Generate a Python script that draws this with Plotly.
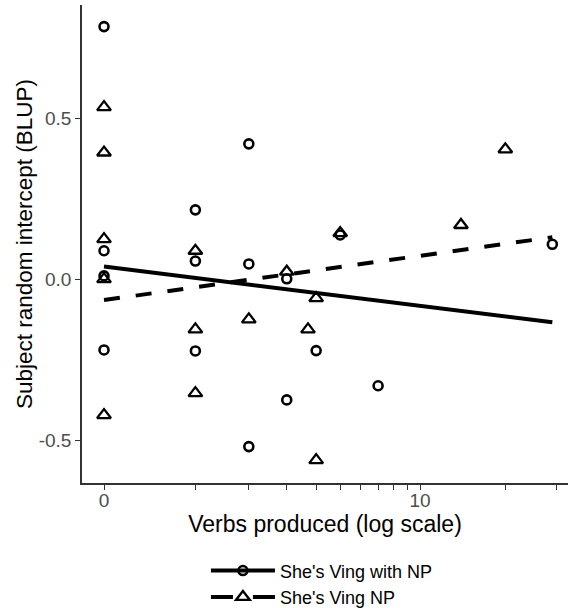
import numpy as np
import plotly.graph_objects as go

# verbs produced (raw counts, shown on a log1p axis) and subject BLUPs
with_np_x = [0, 0, 0, 0, 1, 1, 1, 2, 2, 2, 3, 3, 4, 5, 7, 29]
with_np_y = [0.785, 0.089, 0.011, -0.219, 0.216, 0.057, -0.222, 0.421, 0.048, -0.519,
             0.002, -0.374, -0.221, 0.138, -0.330, 0.109]

np_x = [0, 0, 0, 0, 0, 1, 1, 1, 2, 3, 3.7, 4, 4, 5, 14, 20]
np_y = [0.535, 0.394, 0.125, 0.001, -0.421, 0.089, -0.155, -0.353, -0.124, 0.024,
        -0.155, -0.058, -0.561, 0.144, 0.169, 0.404]

# fitted lines (endpoints)
fit_x = [0, 29]
fit_with_np = [0.040, -0.133]
fit_np = [-0.064, 0.131]

tick_raw = [0, 1, 2, 3, 4, 5, 6, 7, 8, 9, 10, 20, 30]
tick_lab = ["0", "", "", "", "", "", "", "", "", "", "10", "", ""]

names = ["She's Ving with NP", "She's Ving NP"]

FONT = "Liberation Sans, Arial, sans-serif"
t = np.log1p

fig = go.Figure()

fig.add_trace(go.Scatter(x=t(with_np_x), y=with_np_y, mode="markers", showlegend=False,
                         marker=dict(symbol="circle-open", size=9, color="black",
                                     line=dict(width=2.6, color="black"))))
fig.add_trace(go.Scatter(x=t(np_x), y=np_y, mode="markers", showlegend=False,
                         marker=dict(symbol="triangle-up-open", size=12, color="black",
                                     line=dict(width=2.3, color="black"))))
fig.add_trace(go.Scatter(x=t(fit_x), y=fit_with_np, mode="lines", showlegend=False,
                         line=dict(color="black", width=4)))
fig.add_trace(go.Scatter(x=t(fit_x), y=fit_np, mode="lines", showlegend=False,
                         line=dict(color="black", width=4, dash="16px,16px")))

# legend entries
fig.add_trace(go.Scatter(x=[None], y=[None], mode="lines+markers", name=names[0],
                         line=dict(color="black", width=4),
                         marker=dict(symbol="circle-open", size=9, color="black",
                                     line=dict(width=2.6, color="black"))))
fig.add_trace(go.Scatter(x=[None], y=[None], mode="lines+markers", name=names[1],
                         line=dict(color="black", width=4, dash="22px,20px"),
                         marker=dict(symbol="triangle-up-open", size=12, color="black",
                                     line=dict(width=2.3, color="black"))))

fig.update_layout(
    width=569, height=608,
    margin=dict(l=82, r=1, t=5, b=125, autoexpand=False),
    plot_bgcolor="white", paper_bgcolor="white",
    font=dict(family=FONT, color="black"),
    legend=dict(orientation="v", x=0.255, xanchor="left", y=-0.211, yanchor="middle",
                font=dict(size=18, color="black"), itemwidth=64, tracegroupgap=0,
                bgcolor="rgba(0,0,0,0)"),
)

fig.update_xaxes(
    range=[-0.167, 3.52], automargin=False,
    tickvals=t(tick_raw), ticktext=tick_lab,
    ticks="outside", ticklen=5, tickwidth=1, tickcolor="#333333",
    tickfont=dict(size=19, color="#4d4d4d"), ticklabelstandoff=-6,
    showline=True, linecolor="#333333", linewidth=1.5,
    showgrid=False, zeroline=False,
    title=dict(text="Verbs produced (log scale)", font=dict(size=23, color="black"), standoff=0),
)
fig.update_yaxes(
    range=[-0.632, 0.852], automargin=False,
    tickvals=[-0.5, 0.0, 0.5], ticktext=["-0.5", "0.0", "0.5"],
    ticks="outside", ticklen=5, tickwidth=1, tickcolor="#333333",
    tickfont=dict(size=19, color="#4d4d4d"),
    showline=True, linecolor="#333333", linewidth=1.5,
    showgrid=False, zeroline=False,
    title=dict(text="Subject random intercept (BLUP)", font=dict(size=22.5, color="black"), standoff=0),
)

fig.write_html("out.html", config={"displayModeBar": False},
               post_script="document.body.style.margin='0';")
